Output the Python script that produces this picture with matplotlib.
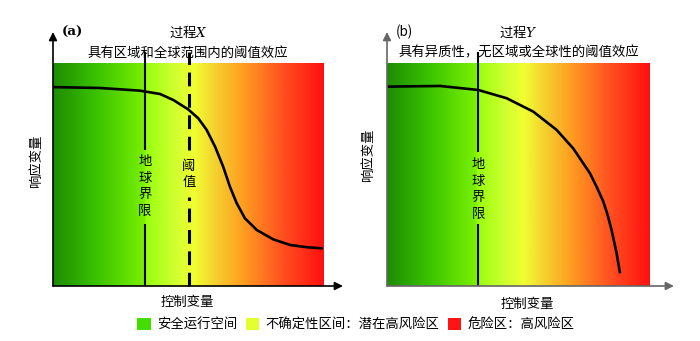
import numpy as np
import matplotlib
matplotlib.use("Agg")
import matplotlib.pyplot as plt
from matplotlib.colors import LinearSegmentedColormap
from matplotlib.patches import Patch

plt.rcParams['font.family'] = ['Noto Sans CJK SC', 'DejaVu Sans']
plt.rcParams['mathtext.fontset'] = 'dejavuserif'
plt.rcParams['axes.unicode_minus'] = False

# ---------------- data ----------------
# panel (a): process X, response vs control variable
curve_a_x = [0.0, 1.73, 3.21, 3.95, 4.44, 4.99, 5.36, 5.67, 5.98, 6.28, 6.53, 6.78,
             7.08, 7.52, 8.13, 8.75, 9.36, 9.92]
curve_a_y = [8.92, 8.88, 8.76, 8.61, 8.34, 7.92, 7.52, 7.00, 6.25, 5.35, 4.45, 3.71,
             3.04, 2.51, 2.09, 1.84, 1.74, 1.69]
boundary_a = 3.39      # 地球界限
threshold_a = 5.02     # 阈值

# panel (b): process Y
curve_b_x = [0.0, 2.02, 3.47, 4.55, 5.56, 6.45, 7.08, 7.72, 7.97, 8.22, 8.38, 8.54, 8.73, 8.86]
curve_b_y = [8.94, 8.97, 8.79, 8.42, 7.82, 7.00, 6.17, 5.05, 4.45, 3.80, 3.22, 2.51, 1.47, 0.57]
boundary_b = 3.46

titles = ["过程$X$", "过程$Y$"]
subtitles = ["具有区域和全球范围内的阈值效应", "具有异质性，无区域或全球性的阈值效应"]
panel_labels = ["(a)", "(b)"]
xlabel = "控制变量"
ylabel = "响应变量"
legend_labels = ["安全运行空间", "不确定性区间：潜在高风险区", "危险区：高风险区"]
legend_colors = ["#44dd00", "#e4ff30", "#ff1414"]

# ---------------- style ----------------
cmap = LinearSegmentedColormap.from_list("risk", [
    (0.0, "#1e8c00"), (0.15, "#38c000"), (0.335, "#78f000"), (0.345, "#98ff10"),
    (0.45, "#d0ff30"), (0.52, "#f0ff30"), (0.60, "#f5d030"), (0.70, "#ff9f20"),
    (0.85, "#ff5020"), (1.0, "#ff1010")])

fig = plt.figure(figsize=(7.0, 3.41), dpi=100)
bottom, height = 55 / 341, 223 / 341
ax_a = fig.add_axes([53 / 700, bottom, 271 / 700, height])
ax_b = fig.add_axes([387 / 700, bottom, 263 / 700, height])

grad = np.linspace(0, 1, 600).reshape(1, -1)


def setup(ax, axcolor, xtip, ytip=11.39):
    ax.imshow(grad, cmap=cmap, extent=[0, 10, 0, 10], aspect='auto', zorder=0)
    ax.set_xlim(0, 10)
    ax.set_ylim(0, 10)
    for s in ax.spines.values():
        s.set_visible(False)
    ax.set_xticks([])
    ax.set_yticks([])
    ax.annotate("", xy=(xtip, 0), xytext=(0, 0), annotation_clip=False,
                arrowprops=dict(arrowstyle="-|>", color=axcolor, lw=1.2,
                                mutation_scale=12, shrinkA=0, shrinkB=0))
    ax.annotate("", xy=(0, ytip), xytext=(0, 0), annotation_clip=False,
                arrowprops=dict(arrowstyle="-|>", color=axcolor, lw=1.2,
                                mutation_scale=12, shrinkA=0, shrinkB=0))


def vline_with_text(ax, x, text, bot_end, top_start, ytext, dashed=False):
    kw = dict(color='black', clip_on=False, solid_capstyle='butt')
    if dashed:
        kw.update(lw=2.2, dashes=(4.5, 2.5))
    else:
        kw.update(lw=1.5)
    ax.plot([x, x], [0, bot_end], **kw)
    ax.plot([x, x], [top_start, 10.49], **kw)
    ax.text(x, ytext, "\n".join(text), ha='center', va='center',
            fontsize=9.6, linespacing=1.22)


# panel (a)
setup(ax_a, 'black', 10.70)
vline_with_text(ax_a, boundary_a, "地球界限", 2.78, 6.10, 4.48)
vline_with_text(ax_a, threshold_a, "阈值", 3.99, 6.10, 5.02, dashed=True)
ax_a.plot(curve_a_x, curve_a_y, color='black', lw=1.9,
          solid_capstyle='round', solid_joinstyle='round')

# panel (b)
setup(ax_b, '#666666', 10.91)
vline_with_text(ax_b, boundary_b, "地球界限", 2.78, 6.01, 4.35)
ax_b.plot(curve_b_x, curve_b_y, color='black', lw=1.9,
          solid_capstyle='butt', solid_joinstyle='round')

# texts (figure pixel positions)
def ftext(px, py, s, **kw):
    fig.text(px / 700, 1 - py / 341, s, **kw)

ftext(62, 32, panel_labels[0], ha='left', va='center', fontsize=9.6,
      family='DejaVu Serif', fontweight='bold')
ftext(396, 32, panel_labels[1], ha='left', va='center', fontsize=9.6)
ftext(188, 32, titles[0], ha='center', va='center', fontsize=9.6)
ftext(518, 32, titles[1], ha='center', va='center', fontsize=9.6)
ftext(188, 53, subtitles[0], ha='center', va='center', fontsize=9.6)
ftext(519, 52, subtitles[1], ha='center', va='center', fontsize=9.6)
ftext(36, 161, ylabel, ha='center', va='center', fontsize=9.6, rotation=90)
ftext(368, 155, ylabel, ha='center', va='center', fontsize=9.6, rotation=90)
ftext(187, 302, xlabel, ha='center', va='center', fontsize=9.6)
ftext(527, 304, xlabel, ha='center', va='center', fontsize=9.6)

handles = [Patch(facecolor=c, edgecolor='none') for c in legend_colors]
fig.legend(handles, legend_labels, loc='center', bbox_to_anchor=(356 / 700, 1 - 325 / 341),
           ncol=3, frameon=False, fontsize=9.6, handlelength=1.0, handleheight=1.0,
           handletextpad=0.5, columnspacing=0.6, borderpad=0, borderaxespad=0)

fig.savefig("out.png", dpi=100)
